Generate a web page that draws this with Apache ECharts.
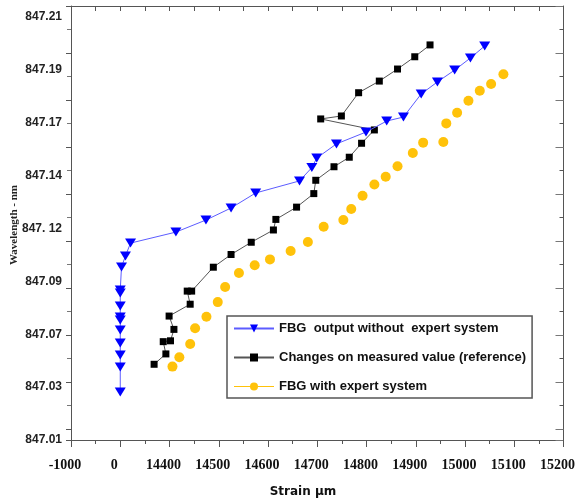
<!DOCTYPE html>
<html>
<head>
<meta charset="utf-8">
<script src="https://cdn.jsdelivr.net/npm/echarts@6/dist/echarts.min.js"></script>
<style>html,body{margin:0;padding:0;background:#fff;}#c{width:578px;height:500px;}</style>
</head>
<body>
<div id="c"></div>
<script>
// Tick labels as printed on the figure
const xTickLabels = ['-1000','0','14400','14500','14600','14700','14800','14900','15000','15100','15200'];
const yTickLabels = ['847.01','847.03','847.07','847.09','847. 12','847.14','847.17','847.19','847.21'];

// FBG output without expert system
const blueStrain = [0,0,0,0,0,0,0,0,0,0,370,1520,3010,14413,14474,14525,14575,14664,14689,14699,14739,14799,14841,14875,14911,14944,14979,15011,15040];
const blueWave = [847.0327,847.0445,847.0502,847.0559,847.0620,847.0667,847.0682,847.0734,847.0795,847.0809,847.0918,847.0970,847.1031,847.1083,847.1140,847.1197,847.1268,847.1325,847.1388,847.1433,847.1500,847.1556,847.1608,847.1627,847.1736,847.1793,847.1849,847.1906,847.1963];

// Changes on measured value (reference)
const blackStrain = [9900,13340,12570,14402,14409,14285,14442,14436,14445,14489,14525,14566,14611,14616,14658,14693,14697,14734,14765,14790,14816,14707,14749,14784,14826,14863,14898,14929];
const blackWave = [847.0458,847.0507,847.0565,847.0569,847.0623,847.0686,847.0742,847.0804,847.0804,847.0917,847.0977,847.1035,847.1093,847.1143,847.1201,847.1265,847.1328,847.1392,847.1437,847.1503,847.1566,847.1618,847.1632,847.1742,847.1797,847.1854,847.1912,847.1968];

// FBG with expert system
const yellowStrain = [14406,14420,14442,14452,14475,14498,14513,14541,14573,14604,14646,14681,14713,14753,14769,14792,14816,14839,14863,14894,14915,14956,14962,14984,15007,15030,15053,15078];
const yellowWave = [847.0447,847.0491,847.0554,847.0628,847.0683,847.0752,847.0823,847.0890,847.0926,847.0954,847.0994,847.1036,847.1108,847.1140,847.1192,847.1255,847.1308,847.1345,847.1394,847.1457,847.1506,847.1509,847.1597,847.1647,847.1704,847.1751,847.1783,847.1829];

const seriesNames = ['FBG  output without  expert system','Changes on measured value (reference)','FBG with expert system'];

// broken strain axis: -1000..0 | 0..14400 | 14400..15200 (100 per division)
function toU(s){ if (s < 0) return 1 + s/1000; if (s <= 14400) return 1 + s/14400; return 2 + (s-14400)/100; }
// wavelength axis: one label division = 0.025 nm
function toW(v){ return (v - 847.01)/0.025; }
function pts(xs, ys){ return xs.map((s,i)=>[toU(s), toW(ys[i])]); }

const chart = echarts.init(document.getElementById('c'));
const frame = {lineStyle:{color:'#555', width:1}};
chart.setOption({
  animation:false,
  backgroundColor:'#fff',
  grid:{left:71, right:5, top:6, bottom:60},
  xAxis:[
    {type:'value', min:0, max:10, interval:1, position:'bottom',
     axisLine:{show:true, onZero:false, ...frame},
     axisTick:{show:true, length:7, lineStyle:{color:'#555'}},
     minorTick:{show:true, splitNumber:2, length:4, lineStyle:{color:'#555'}},
     splitLine:{show:false},
     axisLabel:{margin:18, padding:[0,12,0,0], color:'#111', fontFamily:'Liberation Serif', fontSize:14, fontWeight:'bold',
       formatter:(v)=>{const i=Math.round(v); return Math.abs(v-i)<1e-6 ? (xTickLabels[i]||'') : '';}}},
    {type:'value', min:0, max:10, interval:0.5, position:'top',
     axisLine:{show:true, onZero:false, ...frame},
     axisTick:{show:true, inside:true, length:5, lineStyle:{color:'#555'}},
     axisLabel:{show:false}, splitLine:{show:false}}
  ],
  yAxis:[
    {type:'value', min:0, max:434/423*8, interval:1, position:'left',
     axisLine:{show:false}, axisTick:{show:false}, splitLine:{show:false},
     axisLabel:{margin:9, color:'#222', fontFamily:'Liberation Sans', fontSize:12, fontWeight:'bold', showMaxLabel:false,
       formatter:(v)=>{const i=Math.round(v); return Math.abs(v-i)<1e-6 ? (yTickLabels[i]||'') : '';}}},
    {type:'value', min:0, max:434/23.5, interval:2, inverse:true, position:'left',
     axisLine:{show:true, onZero:false, ...frame},
     axisTick:{show:true, length:5, lineStyle:{color:'#555'}},
     minorTick:{show:true, splitNumber:2, length:4, lineStyle:{color:'#777'}},
     axisLabel:{show:false}, splitLine:{show:false}},
    {type:'value', min:0, max:434/23.5, interval:2, inverse:true, position:'right',
     axisLine:{show:true, onZero:false, ...frame},
     axisTick:{show:true, inside:true, length:8, lineStyle:{color:'#777'}},
     minorTick:{show:true, splitNumber:2, length:4, lineStyle:{color:'#555'}},
     axisLabel:{show:false}, splitLine:{show:false}}
  ],
  legend:{
    orient:'vertical', left:227, top:316,
    padding:[6,6,5,6], itemGap:16, itemWidth:40, itemHeight:10,
    backgroundColor:'#fff', borderColor:'#555', borderWidth:1.5,
    textStyle:{fontFamily:'Liberation Sans', fontSize:13, fontWeight:'bold', color:'#111'},
    data:[
      {name:seriesNames[0]},
      {name:seriesNames[1]},
      {name:seriesNames[2], lineStyle:{opacity:1, width:1, color:'#ffc20a'}}
    ]
  },
  series:[
    {name:seriesNames[0], type:'line', data:pts(blueStrain, blueWave),
     symbol:'triangle', symbolSize:[11,9], symbolRotate:180,
     itemStyle:{color:'#0000ff'}, lineStyle:{color:'#5c5cff', width:1}, z:3},
    {name:seriesNames[1], type:'line', data:pts(blackStrain, blackWave),
     symbol:'rect', symbolSize:7,
     itemStyle:{color:'#000'}, lineStyle:{color:'#555', width:1}, z:2},
    {name:seriesNames[2], type:'line', data:pts(yellowStrain, yellowWave),
     symbol:'circle', symbolSize:10,
     itemStyle:{color:'#ffc20a'}, lineStyle:{color:'#ffc20a', opacity:0}, z:1}
  ],
  graphic:[
    {type:'text', x:303, y:492, style:{text:'Strain µm', align:'center', verticalAlign:'middle',
      font:'bold 12px "DejaVu Sans"', fill:'#111'}},
    {type:'text', x:14, y:225, rotation:Math.PI/2, style:{text:'Wavelength - nm', align:'center', verticalAlign:'middle',
      font:'bold 11px "Liberation Serif"', fill:'#222'}}
  ]
});
</script>
</body>
</html>
